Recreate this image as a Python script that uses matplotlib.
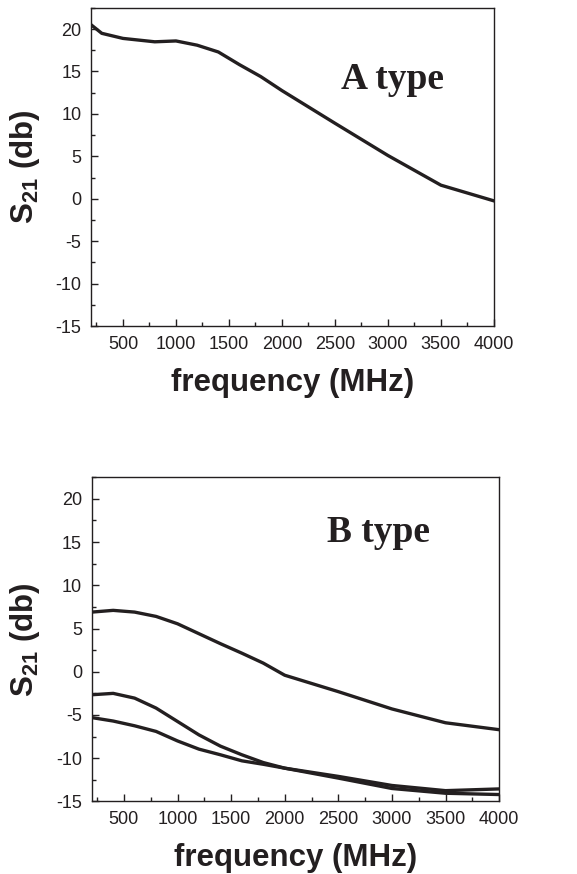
import matplotlib
matplotlib.use('Agg')
import matplotlib.pyplot as plt
from matplotlib.ticker import MultipleLocator

# frequency points (MHz)
freq = [200, 300, 500, 800, 1000, 1200, 1400, 1600, 1800, 2000, 2500, 3000, 3500, 4000]
s21_a = [20.5, 19.5, 18.9, 18.5, 18.6, 18.1, 17.3, 15.8, 14.4, 12.75, 8.9, 5.1, 1.6, -0.25]

freq_b = [200, 400, 600, 800, 1000, 1200, 1400, 1600, 1800, 2000, 2500, 3000, 3500, 4000]
s21_b1 = [6.9, 7.1, 6.9, 6.4, 5.55, 4.4, 3.25, 2.15, 1.0, -0.4, -2.3, -4.3, -5.9, -6.7]
s21_b2 = [-2.66, -2.5, -3.05, -4.2, -5.75, -7.3, -8.6, -9.6, -10.5, -11.15, -12.3, -13.5, -14.05, -14.2]
s21_b3 = [-5.3, -5.7, -6.25, -6.9, -8.0, -8.95, -9.6, -10.3, -10.7, -11.15, -12.1, -13.15, -13.75, -13.55]

plt.rcParams['font.family'] = ['Liberation Sans', 'DejaVu Sans']
plt.rcParams['axes.unicode_minus'] = False
plt.rcParams['mathtext.fontset'] = 'custom'
plt.rcParams['mathtext.rm'] = 'Liberation Sans'
plt.rcParams['mathtext.bf'] = 'Liberation Sans:bold'

line_col = '#231f20'
text_col = '#231f20'

fig = plt.figure(figsize=(5.77, 8.74), dpi=100)
ax1 = fig.add_axes([0.158, 0.627, 0.698, 0.364])
ax2 = fig.add_axes([0.159, 0.083, 0.706, 0.371])

ax1.plot(freq, s21_a, color=line_col, lw=2.4)
for ys in (s21_b1, s21_b2, s21_b3):
    ax2.plot(freq_b, ys, color=line_col, lw=2.4)


def style(ax, label):
    ax.set_xlim(200, 4000)
    ax.set_ylim(-15, 22.5)
    ax.xaxis.set_major_locator(MultipleLocator(500))
    ax.xaxis.set_minor_locator(MultipleLocator(250))
    ax.yaxis.set_major_locator(MultipleLocator(5))
    ax.yaxis.set_minor_locator(MultipleLocator(2.5))
    ax.set_xticks([500, 1000, 1500, 2000, 2500, 3000, 3500, 4000])
    ax.tick_params(which='both', direction='in', top=False, right=False,
                   labelsize=13, labelcolor=text_col, color=line_col, width=1.0)
    ax.tick_params(which='major', length=5, pad=7)
    ax.tick_params(which='minor', length=3)
    for sp in ax.spines.values():
        sp.set_linewidth(1.0)
        sp.set_color(line_col)
    ax.set_xlabel('frequency (MHz)', fontsize=22.5, fontweight='bold',
                  color=text_col, labelpad=11)
    ax.set_ylabel(r'$\mathbf{S_{21}}$ (db)', fontsize=22.5, fontweight='bold',
                  color=text_col, labelpad=10)
    ax.text(label[1], label[2], label[0], transform=ax.transAxes,
            family=['Liberation Serif'], fontweight='bold', fontsize=27,
            ha='center', va='center', color=text_col)


style(ax1, ('A type', 0.747, 0.776))
style(ax2, ('B type', 0.705, 0.829))

fig.savefig('out.png', dpi=100)
